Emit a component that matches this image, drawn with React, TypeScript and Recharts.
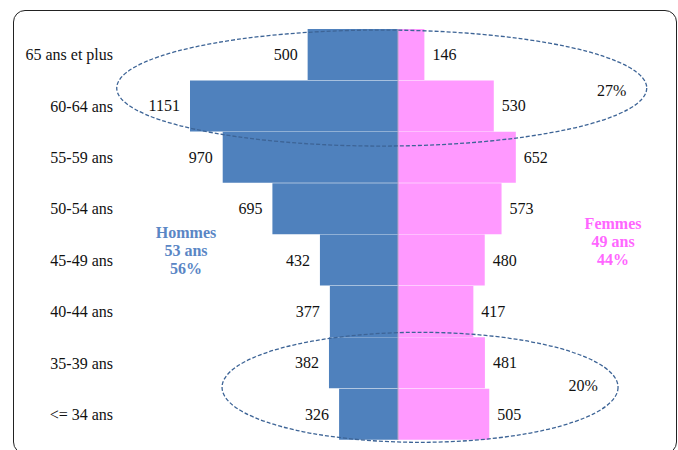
import { BarChart, Bar, XAxis, YAxis, LabelList, ReferenceDot, ReferenceLine } from "recharts";

const categories = ["65 ans et plus", "60-64 ans", "55-59 ans", "50-54 ans", "45-49 ans", "40-44 ans", "35-39 ans", "<= 34 ans"];
const hommes = [500, 1151, 970, 695, 432, 377, 382, 326];
const femmes = [146, 530, 652, 573, 480, 417, 481, 505];

const hommesNote = ["Hommes", "53 ans", "56%"];
const femmesNote = ["Femmes", "49 ans", "44%"];
const groupesPct = ["27%", "20%"];

const data = categories.map((cat, i) => ({ cat, h: -hommes[i], f: femmes[i] }));

const serif = "'Liberation Serif', 'DejaVu Serif', serif";
const txt = { fontFamily: serif, fontSize: 16 };
const BLUE = "#4F81BD";
const PINK = "#FF99FF";
const DASH = "#3D6496";

const MenLabel = (props: any) => {
  const { x, y, width, height, value } = props;
  const left = Math.min(x, x + width);
  return (
    <text x={left - 10} y={y + height / 2} textAnchor="end" dominantBaseline="central" fontFamily={serif} fontSize={16} fill="#111">
      {Math.abs(value)}
    </text>
  );
};

const WomenLabel = (props: any) => {
  const { x, y, width, height, value } = props;
  const right = Math.max(x, x + width);
  return (
    <text x={right + 8} y={y + height / 2} textAnchor="start" dominantBaseline="central" fontFamily={serif} fontSize={16} fill="#111">
      {value}
    </text>
  );
};

// dashed ellipse + percentage, anchored on a data point
const ellipseShape = (dy: number, rx: number, ry: number, label: string, lx: number, ly: number) => (p: any) => (
  <g>
    <ellipse cx={p.cx} cy={p.cy + dy} rx={rx} ry={ry} fill="none" stroke={DASH} strokeWidth={1.3} strokeDasharray="4 2" />
    <text x={p.cx + lx} y={p.cy + dy + ly} textAnchor="middle" dominantBaseline="central" fontFamily={serif} fontSize={16} fill="#111">
      {label}
    </text>
  </g>
);

const noteShape = (lines: string[], color: string, dy: number) => (p: any) => (
  <g>
    {lines.map((l, i) => (
      <text key={l} x={p.cx} y={p.cy + dy + i * 18} textAnchor="middle" dominantBaseline="central" fontFamily={serif} fontSize={16} fontWeight="bold" fill={color}>
        {l}
      </text>
    ))}
  </g>
);

export default function App() {
  return (
    <div style={{ position: "relative", width: 678, height: 450, overflow: "hidden", background: "#fff", fontFamily: serif }}>
      <style>{`body{margin:0} .recharts-wrapper, .recharts-wrapper text { font-family: 'Liberation Serif', 'DejaVu Serif', serif !important; }`}</style>
      <div
        style={{
          position: "absolute",
          left: 13,
          top: 10,
          width: 662,
          height: 442,
          border: "1.5px solid #222",
          borderRadius: 12,
        }}
      />
      <BarChart
        width={678}
        height={450}
        data={data}
        layout="vertical"
        stackOffset="sign"
        barCategoryGap={0}
        margin={{ top: 29, right: 27, left: 15, bottom: 10 }}
      >
        <XAxis type="number" domain={[-1400, 1400]} hide />
        <YAxis
          type="category"
          dataKey="cat"
          width={130}
          axisLine={false}
          tickLine={false}
          tickSize={0}
          tickMargin={32}
          tick={{ fill: "#111", fontSize: 16, fontFamily: serif }}
        />
        <Bar dataKey="h" stackId="a" fill={BLUE} isAnimationActive={false}>
          <LabelList dataKey="h" content={MenLabel} />
        </Bar>
        <Bar dataKey="f" stackId="a" fill={PINK} isAnimationActive={false}>
          <LabelList dataKey="f" content={WomenLabel} />
        </Bar>
        <ReferenceLine x={0} stroke="#b9a6c4" strokeWidth={1} />
        <ReferenceDot x={-90} y="60-64 ans" r={0} ifOverflow="visible" shape={ellipseShape(-18, 265, 58, groupesPct[0], 230, 2)} />
        <ReferenceDot x={122} y="<= 34 ans" r={0} ifOverflow="visible" shape={ellipseShape(-27, 198, 55, groupesPct[1], 163, -2)} />
        <ReferenceDot x={-1173} y="45-49 ans" r={0} ifOverflow="visible" shape={noteShape(hommesNote, "#5A86C5", -28)} />
        <ReferenceDot x={1190} y="45-49 ans" r={0} ifOverflow="visible" shape={noteShape(femmesNote, "#FF66FF", -37)} />
      </BarChart>
    </div>
  );
}
